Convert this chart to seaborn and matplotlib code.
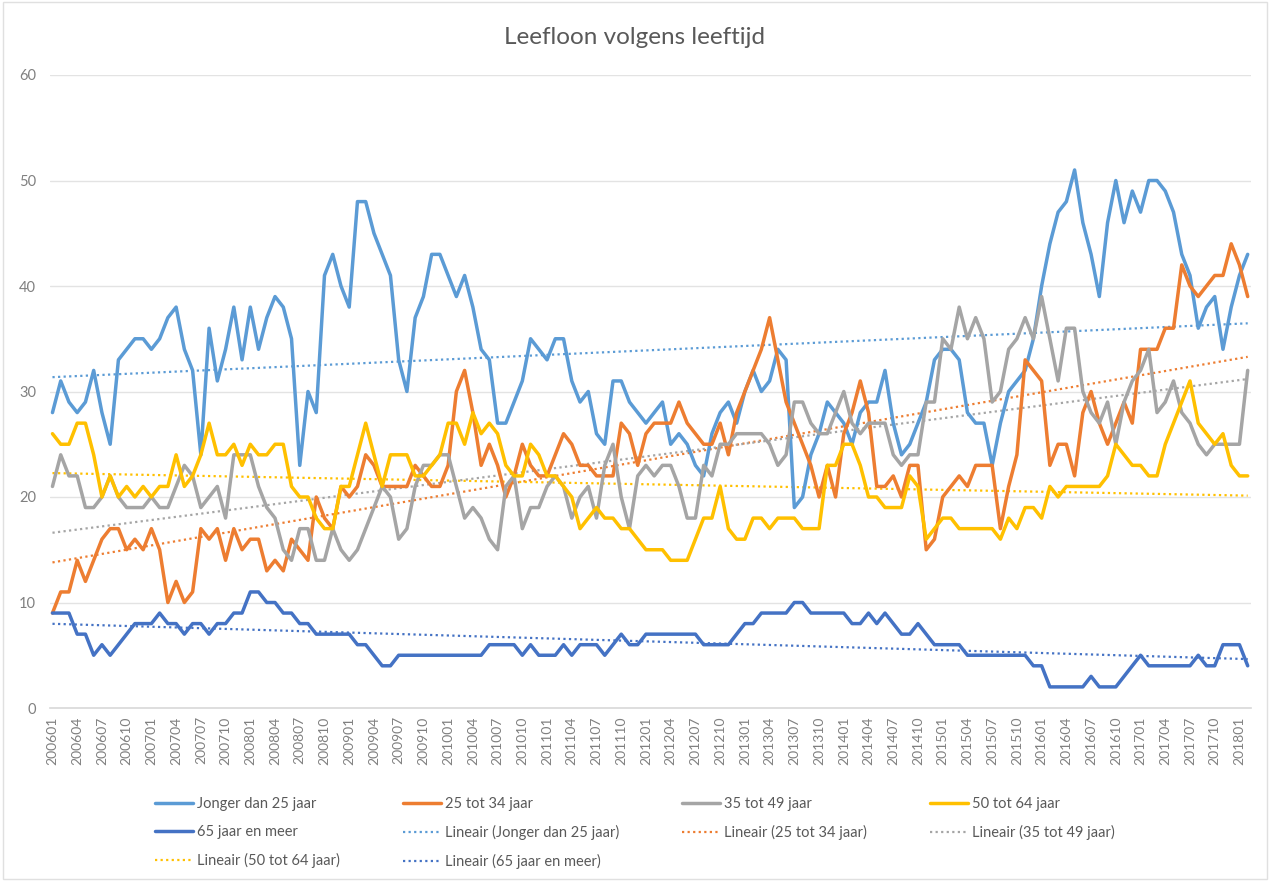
import numpy as np
import pandas as pd
import matplotlib
matplotlib.use("Agg")
import matplotlib.pyplot as plt
import seaborn as sns

# ---- data -------------------------------------------------------------
months = [f"{2006 + k // 12}{k % 12 + 1:02d}" for k in range(146)]  # 200601 .. 201802

jonger_25 = [28, 31, 29, 28, 29, 32, 28, 25, 33, 34, 35, 35, 34, 35, 37, 38, 34, 32, 24, 36, 31, 34, 38, 33,
             38, 34, 37, 39, 38, 35, 23, 30, 28, 41, 43, 40, 38, 48, 48, 45, 43, 41, 33, 30, 37, 39, 43, 43, 41,
             39, 41, 38, 34, 33, 27, 27, 29, 31, 35, 34, 33, 35, 35, 31, 29, 30, 26, 25, 31, 31, 29, 28, 27,
             28, 29, 25, 26, 25, 23, 22, 26, 28, 29, 27, 30, 32, 30, 31, 34, 33, 19, 20, 24, 26, 29, 28, 27,
             25, 28, 29, 29, 32, 27, 24, 25, 27, 29, 33, 34, 34, 33, 28, 27, 27, 23, 27, 30, 31, 32, 35, 40,
             44, 47, 48, 51, 46, 43, 39, 46, 50, 46, 49, 47, 50, 50, 49, 47, 43, 41, 36, 38, 39, 34, 38, 41, 43]

tot_25_34 = [9, 11, 11, 14, 12, 14, 16, 17, 17, 15, 16, 15, 17, 15, 10, 12, 10, 11, 17, 16, 17, 14, 17, 15,
             16, 16, 13, 14, 13, 16, 15, 14, 20, 18, 17, 21, 20, 21, 24, 23, 21, 21, 21, 21, 23, 22, 21, 21, 23,
             30, 32, 28, 23, 25, 23, 20, 22, 25, 23, 22, 22, 24, 26, 25, 23, 23, 22, 22, 22, 27, 26, 23, 26,
             27, 27, 27, 29, 27, 26, 25, 25, 27, 24, 28, 30, 32, 34, 37, 33, 29, 27, 25, 23, 20, 23, 20, 26,
             28, 31, 28, 21, 21, 22, 20, 23, 23, 15, 16, 20, 21, 22, 21, 23, 23, 23, 17, 21, 24, 33, 32, 31,
             23, 25, 25, 22, 28, 30, 27, 25, 27, 29, 27, 34, 34, 34, 36, 36, 42, 40, 39, 40, 41, 41, 44, 42, 39]

tot_35_49 = [21, 24, 22, 22, 19, 19, 20, 22, 20, 19, 19, 19, 20, 19, 19, 21, 23, 22, 19, 20, 21, 18, 24, 24,
             24, 21, 19, 18, 15, 14, 17, 17, 14, 14, 17, 15, 14, 15, 17, 19, 21, 20, 16, 17, 21, 23, 23, 24, 24,
             21, 18, 19, 18, 16, 15, 21, 22, 17, 19, 19, 21, 22, 21, 18, 20, 21, 18, 23, 25, 20, 17, 22, 23,
             22, 23, 23, 21, 18, 18, 23, 22, 25, 25, 26, 26, 26, 26, 25, 23, 24, 29, 29, 27, 26, 26, 28, 30,
             27, 26, 27, 27, 27, 24, 23, 24, 24, 29, 29, 35, 34, 38, 35, 37, 35, 29, 30, 34, 35, 37, 35, 39,
             35, 31, 36, 36, 30, 28, 27, 29, 25, 29, 31, 32, 34, 28, 29, 31, 28, 27, 25, 24, 25, 25, 25, 25, 32]

tot_50_64 = [26, 25, 25, 27, 27, 24, 20, 22, 20, 21, 20, 21, 20, 21, 21, 24, 21, 22, 24, 27, 24, 24, 25, 23,
             25, 24, 24, 25, 25, 21, 20, 20, 18, 17, 17, 21, 21, 24, 27, 24, 21, 24, 24, 24, 22, 22, 23, 24, 27,
             27, 25, 28, 26, 27, 26, 23, 22, 22, 25, 24, 22, 22, 21, 20, 17, 18, 19, 18, 18, 17, 17, 16, 15,
             15, 15, 14, 14, 14, 16, 18, 18, 21, 17, 16, 16, 18, 18, 17, 18, 18, 18, 17, 17, 17, 23, 23, 25,
             25, 23, 20, 20, 19, 19, 19, 22, 21, 16, 17, 18, 18, 17, 17, 17, 17, 17, 16, 18, 17, 19, 19, 18,
             21, 20, 21, 21, 21, 21, 21, 22, 25, 24, 23, 23, 22, 22, 25, 27, 29, 31, 27, 26, 25, 26, 23, 22, 22]

plus_65 = [9, 9, 9, 7, 7, 5, 6, 5, 6, 7, 8, 8, 8, 9, 8, 8, 7, 8, 8, 7, 8, 8, 9, 9,
           11, 11, 10, 10, 9, 9, 8, 8, 7, 7, 7, 7, 7, 6, 6, 5, 4, 4, 5, 5, 5, 5, 5, 5, 5,
           5, 5, 5, 5, 6, 6, 6, 6, 5, 6, 5, 5, 5, 6, 5, 6, 6, 6, 5, 6, 7, 6, 6, 7,
           7, 7, 7, 7, 7, 7, 6, 6, 6, 6, 7, 8, 8, 9, 9, 9, 9, 10, 10, 9, 9, 9, 9, 9,
           8, 8, 9, 8, 9, 8, 7, 7, 8, 7, 6, 6, 6, 6, 5, 5, 5, 5, 5, 5, 5, 5, 4, 4,
           2, 2, 2, 2, 2, 3, 2, 2, 2, 3, 4, 5, 4, 4, 4, 4, 4, 4, 5, 4, 4, 6, 6, 6, 4]

series_names = ["Jonger dan 25 jaar", "25 tot 34 jaar", "35 tot 49 jaar", "50 tot 64 jaar", "65 jaar en meer"]
series_values = [jonger_25, tot_25_34, tot_35_49, tot_50_64, plus_65]
series_colors = ["#5B9BD5", "#ED7D31", "#A5A5A5", "#FFC000", "#4472C4"]
title = "Leefloon volgens leeftijd"

# ---- plot ---------------------------------------------------------------
sns.set_theme(style="white")
plt.rcParams["font.family"] = ["Lato", "DejaVu Sans"]

fig = plt.figure(figsize=(12.7, 8.81), dpi=100)
ax = fig.add_axes([50 / 1270, 1 - 708 / 881, 1201 / 1270, 633 / 881])

idx = np.arange(len(months))
line_handles = []
trend_handles = []
for name, vals, col in zip(series_names, series_values, series_colors):
    df = pd.DataFrame({"x": idx, "y": vals})
    sns.lineplot(data=df, x="x", y="y", color=col, lw=2.5, ax=ax, zorder=3)
    line_handles.append(ax.lines[-1])
for name, vals, col in zip(series_names, series_values, series_colors):
    df = pd.DataFrame({"x": idx, "y": vals})
    sns.regplot(data=df, x="x", y="y", scatter=False, ci=None, ax=ax,
                line_kws=dict(color=col, lw=1.6, ls=(0, (1, 1.5)), zorder=2))
    trend_handles.append(ax.lines[-1])

ax.set_xlim(-0.3, len(months) - 0.6)
ax.set_ylim(0, 60)
ax.set_yticks(range(0, 61, 10))
ax.set_xticks(idx[::3])
ax.set_xticklabels(months[::3], rotation=90, fontsize=10, color="#808080")
ax.tick_params(axis="y", labelsize=10.5, labelcolor="#808080", length=0, pad=10)
ax.tick_params(axis="x", length=0, pad=6)
ax.grid(axis="y", color="#E3E3E3", lw=1)
ax.grid(axis="x", visible=False)
for s in ["top", "right", "left"]:
    ax.spines[s].set_visible(False)
ax.spines["bottom"].set_color("#DADADA")
ax.set_xlabel("")
ax.set_ylabel("")

fig.text(0.5, 1 - 38 / 881, title, ha="center", va="center", fontsize=17.5, color="#595959")

labels_all = series_names + [f"Lineair ({n})" for n in series_names]
handles_all = line_handles + trend_handles
order = [0, 4, 8, 1, 5, 9, 2, 6, 3, 7]
fig.legend([handles_all[i] for i in order], [labels_all[i] for i in order],
           loc="upper center", bbox_to_anchor=(0.5, 1 - 784 / 881), ncol=4,
           frameon=False, fontsize=10.5, handlelength=2.6, handletextpad=0.3,
           columnspacing=4.3, labelspacing=0.95, labelcolor="#595959")

fig.patches.append(plt.Rectangle((0.002, 0.002), 0.996, 0.996, transform=fig.transFigure,
                                 fill=False, edgecolor="#E0E0E0", lw=1))
fig.savefig("out.png", dpi=100, facecolor="white")
